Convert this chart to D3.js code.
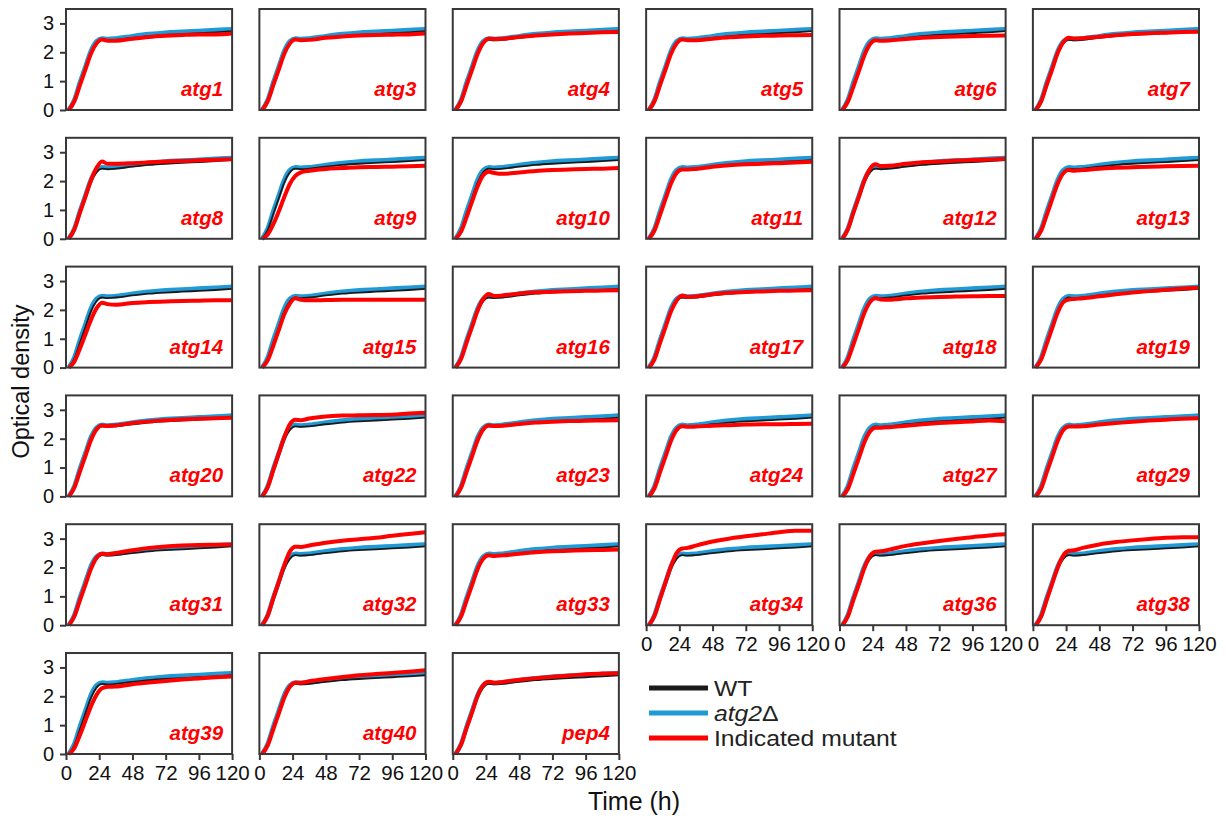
<!DOCTYPE html>
<html>
<head>
<meta charset="utf-8">
<script src="https://cdn.jsdelivr.net/npm/d3@7"></script>
<style>
  body { margin: 0; background: #fff; }
  svg text { font-family: "Liberation Sans", Arial, sans-serif; }
</style>
</head>
<body>
<div id="chart"></div>
<script>
// Sampling times (h)
const hours = [2, 6, 10, 14, 18, 22, 26, 30, 36, 48, 60, 72, 84, 96, 108, 120];

// Reference strains, same in every panel
const wt   = [0, 0.3, 0.85, 1.4, 1.95, 2.3, 2.43, 2.41, 2.43, 2.5, 2.56, 2.6, 2.63, 2.66, 2.69, 2.73];
const atg2 = [0, 0.35, 0.95, 1.5, 2.05, 2.38, 2.48, 2.46, 2.48, 2.56, 2.63, 2.68, 2.71, 2.74, 2.77, 2.8];

// Indicated mutants (panel order)
const mutantNames = ["atg1", "atg3", "atg4", "atg5", "atg6", "atg7",
  "atg8", "atg9", "atg10", "atg11", "atg12", "atg13",
  "atg14", "atg15", "atg16", "atg17", "atg18", "atg19",
  "atg20", "atg22", "atg23", "atg24", "atg27", "atg29",
  "atg31", "atg32", "atg33", "atg34", "atg36", "atg38",
  "atg39", "atg40", "pep4"];

const mutantOD = [
  [0, 0.3, 0.85, 1.4, 1.95, 2.3, 2.44, 2.4, 2.4, 2.47, 2.53, 2.57, 2.6, 2.62, 2.62, 2.65],
  [0, 0.3, 0.85, 1.4, 1.95, 2.3, 2.44, 2.42, 2.43, 2.5, 2.55, 2.58, 2.6, 2.61, 2.62, 2.65],
  [0, 0.3, 0.85, 1.4, 1.95, 2.32, 2.47, 2.46, 2.47, 2.53, 2.58, 2.62, 2.65, 2.67, 2.69, 2.7],
  [0, 0.3, 0.85, 1.4, 1.95, 2.3, 2.44, 2.42, 2.42, 2.47, 2.52, 2.55, 2.57, 2.58, 2.59, 2.6],
  [0, 0.28, 0.8, 1.35, 1.9, 2.28, 2.42, 2.4, 2.41, 2.46, 2.5, 2.53, 2.55, 2.56, 2.57, 2.58],
  [0, 0.3, 0.87, 1.42, 1.98, 2.35, 2.5, 2.48, 2.49, 2.54, 2.59, 2.63, 2.66, 2.68, 2.7, 2.71],

  [0, 0.32, 0.9, 1.45, 2.02, 2.45, 2.68, 2.6, 2.6, 2.62, 2.65, 2.68, 2.7, 2.72, 2.74, 2.76],
  [0, 0.15, 0.5, 0.95, 1.45, 1.9, 2.18, 2.3, 2.36, 2.42, 2.45, 2.48, 2.49, 2.5, 2.51, 2.53],
  [0, 0.25, 0.75, 1.3, 1.82, 2.2, 2.32, 2.28, 2.25, 2.3, 2.35, 2.38, 2.4, 2.42, 2.43, 2.45],
  [0, 0.28, 0.82, 1.38, 1.92, 2.28, 2.4, 2.4, 2.42, 2.5, 2.55, 2.58, 2.6, 2.62, 2.64, 2.67],
  [0, 0.32, 0.9, 1.45, 2.02, 2.42, 2.58, 2.52, 2.53, 2.6, 2.65, 2.68, 2.71, 2.73, 2.75, 2.77],
  [0, 0.28, 0.82, 1.38, 1.92, 2.27, 2.38, 2.36, 2.38, 2.43, 2.46, 2.48, 2.5, 2.51, 2.52, 2.53],

  [0, 0.2, 0.65, 1.15, 1.65, 2.05, 2.25, 2.2, 2.18, 2.24, 2.27, 2.29, 2.31, 2.32, 2.33, 2.33],
  [0, 0.25, 0.75, 1.3, 1.85, 2.22, 2.4, 2.35, 2.33, 2.34, 2.35, 2.35, 2.35, 2.35, 2.35, 2.35],
  [0, 0.3, 0.87, 1.42, 1.98, 2.38, 2.55, 2.48, 2.5, 2.57, 2.61, 2.63, 2.65, 2.66, 2.67, 2.68],
  [0, 0.28, 0.85, 1.4, 1.95, 2.32, 2.5, 2.45, 2.46, 2.54, 2.59, 2.62, 2.64, 2.66, 2.67, 2.68],
  [0, 0.27, 0.8, 1.35, 1.9, 2.27, 2.4, 2.36, 2.35, 2.4, 2.43, 2.45, 2.46, 2.47, 2.48, 2.48],
  [0, 0.28, 0.82, 1.38, 1.92, 2.27, 2.36, 2.38, 2.4, 2.47, 2.54, 2.6, 2.65, 2.7, 2.74, 2.77],

  [0, 0.3, 0.85, 1.4, 1.95, 2.32, 2.46, 2.44, 2.46, 2.54, 2.6, 2.64, 2.67, 2.69, 2.71, 2.73],
  [0, 0.32, 0.9, 1.48, 2.05, 2.5, 2.66, 2.64, 2.7, 2.77, 2.8, 2.81, 2.82, 2.83, 2.87, 2.9],
  [0, 0.3, 0.85, 1.4, 1.95, 2.32, 2.46, 2.44, 2.45, 2.51, 2.56, 2.59, 2.61, 2.62, 2.63, 2.64],
  [0, 0.28, 0.83, 1.38, 1.93, 2.3, 2.43, 2.41, 2.42, 2.45, 2.47, 2.49, 2.5, 2.5, 2.51, 2.52],
  [0, 0.25, 0.78, 1.33, 1.88, 2.25, 2.38, 2.38, 2.4, 2.45, 2.5, 2.54, 2.57, 2.6, 2.63, 2.6],
  [0, 0.28, 0.83, 1.38, 1.93, 2.3, 2.42, 2.42, 2.43, 2.49, 2.54, 2.59, 2.63, 2.66, 2.69, 2.71],

  [0, 0.3, 0.85, 1.4, 1.95, 2.33, 2.48, 2.46, 2.5, 2.6, 2.68, 2.73, 2.76, 2.78, 2.79, 2.8],
  [0, 0.33, 0.92, 1.5, 2.08, 2.55, 2.72, 2.71, 2.76, 2.86, 2.93, 2.98, 3.03, 3.1, 3.16, 3.22],
  [0, 0.3, 0.85, 1.4, 1.95, 2.3, 2.42, 2.4, 2.42, 2.48, 2.53, 2.56, 2.58, 2.6, 2.61, 2.62],
  [0, 0.32, 0.9, 1.48, 2.05, 2.5, 2.66, 2.68, 2.76, 2.9, 3.0, 3.08, 3.15, 3.22, 3.27, 3.27],
  [0, 0.3, 0.87, 1.42, 1.98, 2.4, 2.55, 2.56, 2.62, 2.75, 2.84, 2.92, 2.99, 3.05, 3.11, 3.15],
  [0, 0.3, 0.88, 1.45, 2.0, 2.42, 2.58, 2.6, 2.68, 2.8, 2.88, 2.94, 2.99, 3.03, 3.05, 3.05],

  [0, 0.2, 0.65, 1.15, 1.65, 2.05, 2.28, 2.33, 2.34, 2.42, 2.48, 2.53, 2.58, 2.62, 2.66, 2.69],
  [0, 0.3, 0.85, 1.4, 1.95, 2.33, 2.47, 2.47, 2.52, 2.6, 2.67, 2.73, 2.77, 2.81, 2.85, 2.9],
  [0, 0.32, 0.9, 1.45, 2.02, 2.38, 2.5, 2.47, 2.5, 2.57, 2.63, 2.68, 2.72, 2.76, 2.79, 2.8]
];

const xTicks = [0, 24, 48, 72, 96, 120];
const yTicks = [0, 1, 2, 3];
const legendLabels = ["WT", "atg2", "Indicated mutant"];

const width = 1226, height = 822;
const nCols = 6, nRows = 6;
const frameColor = "#383838";
const colors = { wt: "#1a1a1a", atg2: "#1f9ad6", mut: "#ff0000" };

const svg = d3.select("#chart").append("svg")
  .attr("width", width)
  .attr("height", height);

// Panel grid
const colBand = d3.scaleBand().domain(d3.range(nCols)).range([66, 1199]).paddingInner(0.141);
const rowBand = d3.scaleBand().domain(d3.range(nRows)).range([9, 754]).paddingInner(0.216);
const pw = colBand.bandwidth(), ph = rowBand.bandwidth();

const x = d3.scaleLinear().domain([0, 120]).range([0, pw]);
const y = d3.scaleLinear().domain([0, 3.5]).range([ph, 0]);

const toPoints = vals => vals.map((v, i) => [hours[i], v]);
const line = d3.line()
  .x(d => x(d[0]))
  .y(d => y(d[1]))
  .curve(d3.curveMonotoneX);

mutantNames.forEach((name, i) => {
  const col = i % nCols, row = Math.floor(i / nCols);
  const g = svg.append("g")
    .attr("transform", `translate(${colBand(col)},${rowBand(row)})`);

  // curves: atg2 (wide blue) under WT (thin black), mutant on top
  g.append("path").attr("d", line(toPoints(atg2)))
    .attr("fill", "none").attr("stroke", colors.atg2).attr("stroke-width", 4.5);
  g.append("path").attr("d", line(toPoints(wt)))
    .attr("fill", "none").attr("stroke", colors.wt).attr("stroke-width", 1.8);
  g.append("path").attr("d", line(toPoints(mutantOD[i])))
    .attr("fill", "none").attr("stroke", colors.mut).attr("stroke-width", 4);

  // frame
  g.append("rect")
    .attr("width", pw).attr("height", ph)
    .attr("fill", "none").attr("stroke", frameColor).attr("stroke-width", 2);

  // label
  g.append("text")
    .attr("x", pw - 9).attr("y", ph - 14)
    .attr("text-anchor", "end")
    .attr("fill", "#ff0000")
    .style("font-size", "20.5px").style("font-weight", "bold").style("font-style", "italic")
    .text(name);

  // y axis on first column
  if (col === 0) {
    const ya = g.append("g").call(d3.axisLeft(y).tickValues(yTicks)
      .tickFormat(d3.format("d")).tickSize(6).tickPadding(6));
    ya.select(".domain").remove();
    ya.selectAll(".tick line").attr("stroke", frameColor).attr("stroke-width", 2);
    ya.selectAll(".tick text").attr("fill", "#111").style("font-size", "20px");
  }

  // x axis on the lowest panel of each column
  const lowest = (row === nRows - 1) || (row === nRows - 2 && col >= mutantNames.length - (nRows - 1) * nCols);
  if (lowest) {
    const xa = g.append("g").attr("transform", `translate(0,${ph})`)
      .call(d3.axisBottom(x).tickValues(xTicks).tickSize(6).tickPadding(5));
    xa.select(".domain").remove();
    xa.selectAll(".tick line").attr("stroke", frameColor).attr("stroke-width", 2);
    xa.selectAll(".tick text").attr("fill", "#111").style("font-size", "20.5px");
  }
});

// Axis titles
svg.append("text")
  .attr("transform", `translate(29,${(9 + 754) / 2}) rotate(-90)`)
  .attr("text-anchor", "middle")
  .attr("fill", "#111")
  .style("font-size", "23.5px")
  .text("Optical density");

svg.append("text")
  .attr("x", 634).attr("y", 810)
  .attr("text-anchor", "middle")
  .attr("fill", "#111")
  .style("font-size", "25px")
  .text("Time (h)");

// Legend
const legendColors = [colors.wt, colors.atg2, colors.mut];
const legend = svg.append("g").attr("transform", "translate(649,688)");
legendLabels.forEach((lab, i) => {
  const row = legend.append("g").attr("transform", `translate(0,${i * 25})`);
  row.append("line")
    .attr("x1", 0).attr("x2", 59)
    .attr("stroke", legendColors[i]).attr("stroke-width", 5);
  const t = row.append("text")
    .attr("transform", "translate(65,8) scale(1.15,1)")
    .attr("fill", "#222")
    .style("font-size", "21.5px");
  if (lab === "atg2") {
    t.append("tspan").style("font-style", "italic").text("atg2");
    t.append("tspan").text("\u0394");
  } else {
    t.text(lab);
  }
});
</script>
</body>
</html>
